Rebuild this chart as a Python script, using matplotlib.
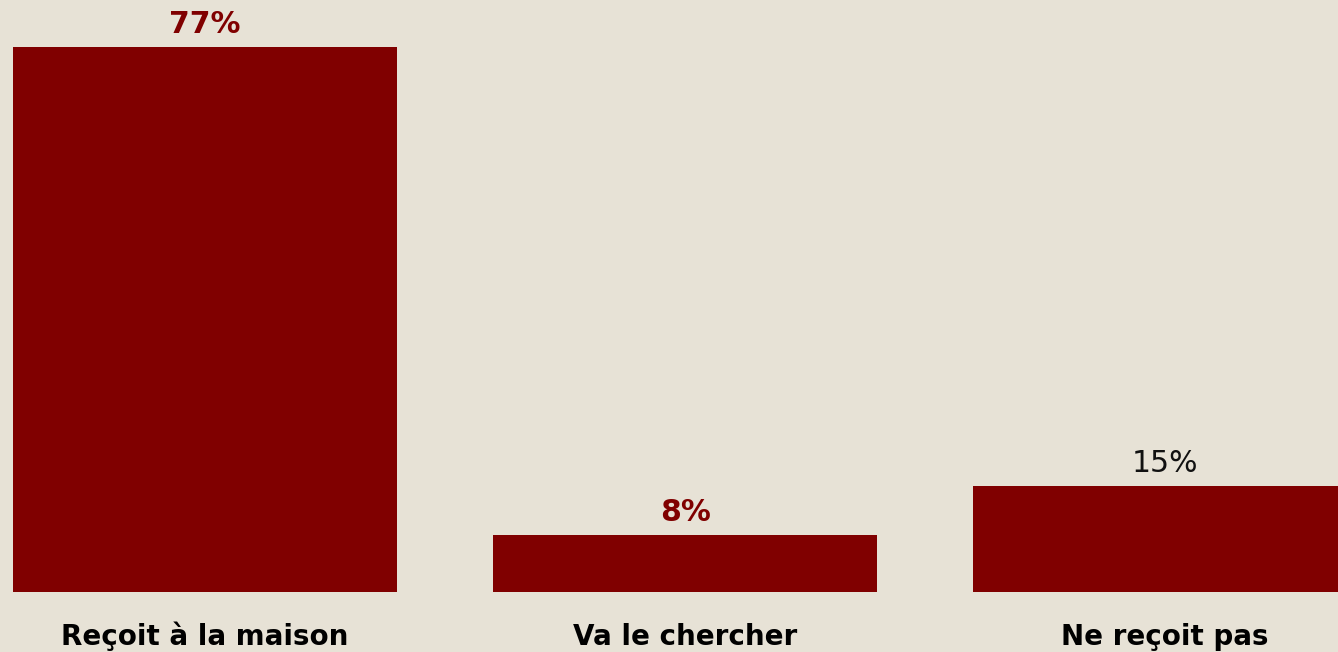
import matplotlib
matplotlib.use("Agg")
import matplotlib.pyplot as plt
import matplotlib.transforms as mtransforms

# data
categories = ["Reçoit à la maison", "Va le chercher", "Ne reçoit pas"]
values = [77, 8, 15]
label_bold = [True, True, False]

BG = "#E7E2D6"
BAR = "#800000"

plt.rcParams["font.family"] = ["DejaVu Sans"]

fig = plt.figure(figsize=(13.38, 6.52), dpi=100, facecolor=BG)
ax = fig.add_axes([0, 60 / 652, 1, 592 / 652])
ax.set_facecolor(BG)

x = list(range(len(categories)))
bars = ax.bar(x, values, width=0.8, color=BAR, zorder=2)

ax.set_xlim(-0.427, 2.36)
ax.set_ylim(0, 83.6)
for s in ax.spines.values():
    s.set_visible(False)
ax.set_xticks([])
ax.set_yticks([])

# value labels above bars
for xi, v, b in zip(x, values, label_bold):
    ax.annotate(f"{v}%", (xi, v), xytext=(0, 10), textcoords="offset points",
                ha="center", va="baseline", fontsize=21.5,
                fontweight="bold" if b else "normal",
                color=BAR if b else "#111111")

# category labels below the baseline
trans = mtransforms.blended_transform_factory(ax.transData, ax.transAxes)
for xi, cat in zip(x, categories):
    ax.text(xi, -53 / 592, cat, transform=trans, ha="center", va="baseline",
            fontsize=20, fontweight="heavy", color="#000000")

fig.savefig("out.png", dpi=100, facecolor=BG)
